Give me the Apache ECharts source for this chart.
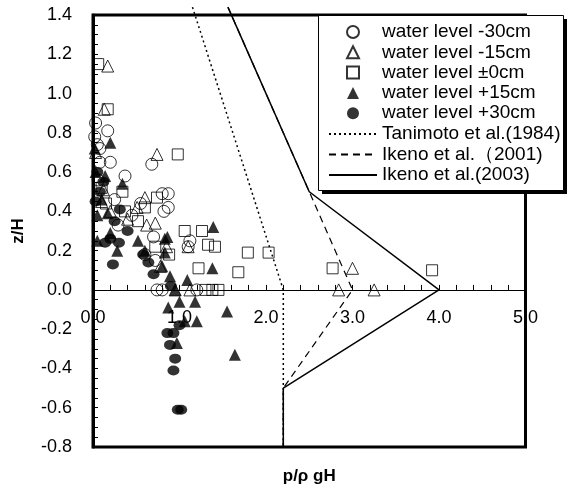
<!DOCTYPE html>
<html><head><meta charset="utf-8">
<script src="https://cdn.jsdelivr.net/npm/echarts@6/dist/echarts.min.js"></script>
<style>html,body{margin:0;padding:0;background:#fff}#c{width:568px;height:491px}</style>
</head><body><div id="c"></div>
<script>
// ---- data ----
const xTickLabels = ['0.0', '1.0', '2.0', '3.0', '4.0', '5.0'];
const yTickLabels = ['-0.8', '-0.6', '-0.4', '-0.2', '0.0', '0.2', '0.4', '0.6', '0.8', '1.0', '1.2', '1.4'];

const seriesNames = ['water level -30cm', 'water level -15cm', 'water level ±0cm', 'water level +15cm', 'water level +30cm',
  'Tanimoto et al.(1984)', 'Ikeno et al.（2001)', 'Ikeno et al.(2003)'];

const levelMinus30 = [[0.03,0.85],[0.02,0.78],[0.05,0.74],[0.17,0.81],[0.08,0.72],[0.08,0.65],[0.2,0.65],[0.37,0.58],[0.68,0.64],[0.06,0.56],[0.8,0.49],[0.87,0.49],[0.87,0.42],[0.82,0.4],[0.29,0.33],[0.55,0.44],[0.45,0.38],[0.7,0.27],[1.1,0.22],[1.12,0.25],[0.72,0.15],[0.74,0.0],[0.8,0.0],[1.2,0.0],[0.25,0.46],[0.6,0.18]];
const levelMinus15 = [[0.17,1.14],[0.13,0.92],[0.03,0.70],[0.74,0.69],[0.12,0.51],[0.6,0.47],[0.51,0.42],[0.2,0.4],[0.72,0.34],[0.62,0.33],[0.4,0.36],[0.85,0.22],[1.1,0.22],[0.78,0.12],[3.0,0.11],[2.84,0.0],[3.25,0.0],[1.12,0.0],[0.95,0.0],[0.1,0.45]];
const levelZero = [[0.06,1.15],[0.17,0.92],[0.98,0.69],[0.1,0.52],[0.34,0.5],[0.74,0.47],[0.37,0.40],[0.52,0.35],[0.6,0.42],[0.15,0.44],[1.06,0.30],[1.26,0.30],[1.33,0.23],[1.41,0.22],[1.79,0.19],[2.03,0.19],[1.22,0.11],[1.68,0.09],[2.77,0.11],[3.92,0.10],[1.30,0.0],[1.38,0.0],[1.45,0.0],[0.88,0.18],[0.72,0.22]];
const levelPlus15 = [[0.2,0.75],[0.02,0.72],[0.03,0.6],[0.14,0.58],[0.34,0.54],[0.05,0.38],[0.17,0.39],[0.1,0.46],[0.2,0.29],[0.52,0.25],[0.83,0.26],[0.86,0.27],[0.8,0.12],[0.83,0.19],[0.6,0.2],[1.39,0.32],[1.38,0.11],[0.89,0.07],[1.09,0.05],[1.0,-0.06],[1.18,-0.06],[0.87,-0.09],[1.55,-0.11],[1.06,-0.16],[1.2,-0.16],[0.97,-0.27],[1.64,-0.33],[0.95,0.0],[0.28,0.2],[0.05,0.25]];
const levelPlus30 = [[0.05,0.6],[0.12,0.55],[0.08,0.5],[0.03,0.45],[0.31,0.41],[0.14,0.24],[0.3,0.24],[0.2,0.26],[0.23,0.13],[0.64,0.14],[0.58,0.18],[0.7,0.08],[0.9,0.02],[0.86,-0.22],[0.93,-0.22],[1.0,-0.18],[0.89,-0.28],[0.95,-0.35],[0.93,-0.41],[0.98,-0.61],[1.02,-0.61],[0.4,0.3],[0.25,0.35]];

const tanimoto1984 = [[1.15,1.44],[2.2,0.0],[2.2,-0.8]];
const ikeno2001 = [[1.56,1.44],[2.5,0.5],[3.0,0.0],[2.2,-0.5],[2.2,-0.8]];
const ikeno2003 = [[1.56,1.44],[2.5,0.5],[4.0,0.0],[2.2,-0.5],[2.2,-0.8]];

// ---- chart ----
const FONT = "'Liberation Sans', Arial, sans-serif";
const openStyle = {color: 'rgba(0,0,0,0)', borderColor: '#000', borderWidth: 1};
const fillStyle = {color: '#000', borderColor: '#000', borderWidth: 0};

const GRID = {left: 93, top: 15, width: 432.5, height: 432};
const Y_MIN = -0.8, Y_MAX = 1.4;
const zeroOffset = -GRID.height * (0 - Y_MIN) / (Y_MAX - Y_MIN);

function scatter(name, data, symbol, size, style) {
  return {name, type: 'scatter', data, symbol, symbolSize: size, symbolKeepAspect: true,
    itemStyle: style, xAxisIndex: 0, yAxisIndex: 0, silent: true, z: 3};
}
function line(name, data, width, type) {
  return {name, type: 'line', data, symbol: 'none', showSymbol: false, clip: false,
    itemStyle: {color: '#000'},
    lineStyle: {color: '#000', width, type}, xAxisIndex: 0, yAxisIndex: 0, silent: true, z: 2};
}
const legendText = {fontSize: 19, color: '#000', fontFamily: FONT, lineHeight: 20};

const chart = echarts.init(document.getElementById('c'), null, {renderer: 'canvas'});
chart.setOption({
  animation: false,
  backgroundColor: '#fff',
  textStyle: {fontFamily: FONT},
  grid: Object.assign({show: true, borderColor: '#000', borderWidth: 3, backgroundColor: 'rgba(0,0,0,0)'}, GRID),
  xAxis: [{
    type: 'value', min: 0, max: 5, interval: 1, position: 'bottom', offset: zeroOffset,
    axisLine: {show: true, onZero: false, lineStyle: {color: '#000', width: 1}},
    axisTick: {show: true, inside: true, length: 5, lineStyle: {color: '#000', width: 1}},
    minorTick: {show: true, splitNumber: 5, length: 5, lineStyle: {color: '#000', width: 1}},
    axisLabel: {margin: 19, fontSize: 18, color: '#000', fontFamily: FONT,
      formatter: v => xTickLabels[Math.round(v)]},
    splitLine: {show: false}
  }, {
    type: 'value', min: 0, max: 5, position: 'bottom',
    axisLine: {show: false, onZero: false}, axisTick: {show: false}, axisLabel: {show: false}, splitLine: {show: false},
    name: 'p/ρ gH', nameLocation: 'middle', nameGap: 21,
    nameTextStyle: {fontSize: 17, fontWeight: 'bold', color: '#000', fontFamily: FONT}
  }],
  yAxis: [{
    type: 'value', min: Y_MIN, max: Y_MAX, interval: 0.2,
    axisLine: {show: true, onZero: false, lineStyle: {color: '#000', width: 3}},
    axisTick: {show: true, inside: true, length: 5, lineStyle: {color: '#000', width: 1}},
    minorTick: {show: true, splitNumber: 4, length: 5, lineStyle: {color: '#000', width: 1}},
    axisLabel: {margin: 21, fontSize: 18, color: '#000', fontFamily: FONT,
      formatter: v => yTickLabels[Math.round((v - Y_MIN) / 0.2)]},
    splitLine: {show: false},
    name: 'z/H', nameLocation: 'middle', nameRotate: 90, nameGap: 66,
    nameTextStyle: {fontSize: 17, fontWeight: 'bold', color: '#000', fontFamily: FONT}
  }],
  graphic: [
    {type: 'rect', z: 10, silent: true, shape: {x: 322, y: 19, width: 245, height: 175}, style: {fill: '#000'}},
    {type: 'rect', z: 11, silent: true, shape: {x: 318.5, y: 15.5, width: 245, height: 175}, style: {fill: '#fff', stroke: '#000', lineWidth: 1}}
  ],
  legend: [{
    orient: 'vertical', left: 346, top: 22, z: 20,
    padding: 0, itemWidth: 12, itemHeight: 12, itemGap: 0.3,
    selectedMode: false,
    textStyle: Object.assign({padding: [0, 0, 0, 18]}, legendText),
    data: seriesNames.slice(0, 5)
  }, {
    orient: 'vertical', left: 328, top: 124, z: 20,
    padding: 0, itemWidth: 48, itemHeight: 12, itemGap: 0.5,
    selectedMode: false,
    textStyle: legendText,
    data: seriesNames.slice(5).map(n => ({name: n, itemStyle: {color: 'rgba(0,0,0,0)', borderColor: 'rgba(0,0,0,0)', borderWidth: 0}}))
  }],
  series: [
    line(seriesNames[5], tanimoto1984, 1.5, [2, 3]),
    line(seriesNames[6], ikeno2001, 1.2, [7, 5]),
    line(seriesNames[7], ikeno2003, 1.5, 'solid'),
    scatter(seriesNames[0], levelMinus30, 'circle', 12, openStyle),
    scatter(seriesNames[1], levelMinus15, 'triangle', 12, openStyle),
    scatter(seriesNames[2], levelZero, 'rect', 11, openStyle),
    scatter(seriesNames[3], levelPlus15, 'triangle', 12, fillStyle),
    scatter(seriesNames[4], levelPlus30, 'circle', [12, 10], fillStyle)
  ]
});
</script></body></html>
